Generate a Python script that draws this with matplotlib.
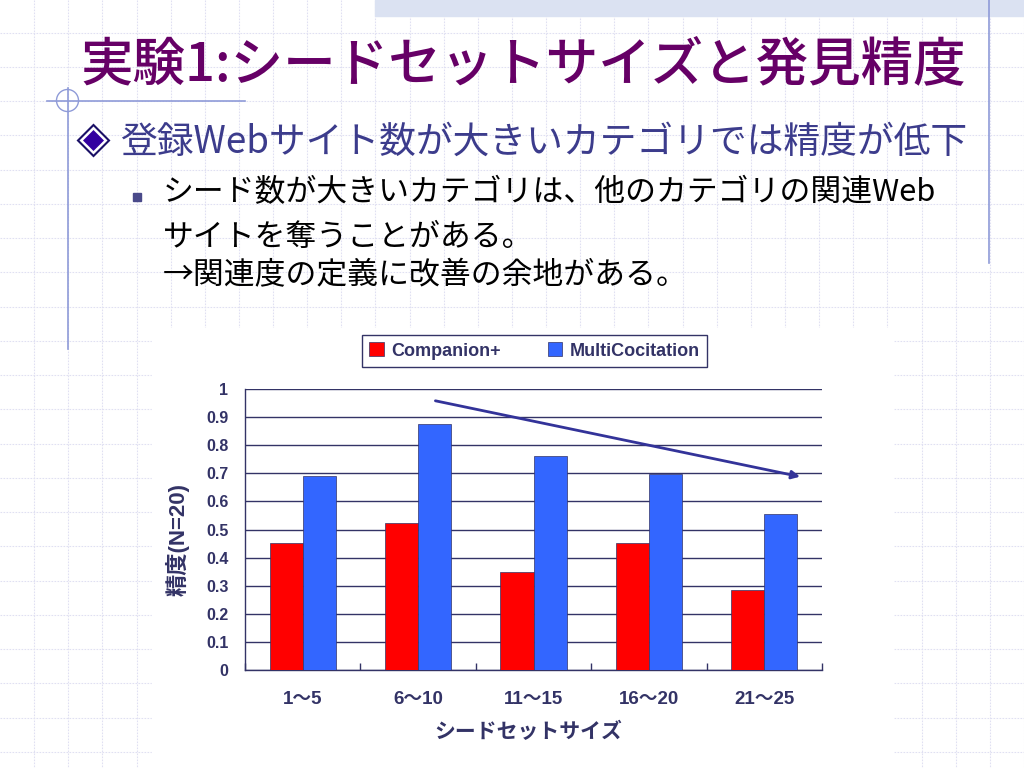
import matplotlib
matplotlib.use("Agg")
import matplotlib.pyplot as plt
from matplotlib.patches import Rectangle, Polygon, Circle
from matplotlib.lines import Line2D
import numpy as np

# data
categories = ["1～5", "6～10", "11～15", "16～20", "21～25"]
companion = [0.453, 0.523, 0.347, 0.453, 0.285]
multicocitation = [0.692, 0.877, 0.762, 0.696, 0.556]
series_names = ["Companion+", "MultiCocitation"]
yticks = [0, 0.1, 0.2, 0.3, 0.4, 0.5, 0.6, 0.7, 0.8, 0.9, 1]
ytick_labels = ["0", "0.1", "0.2", "0.3", "0.4", "0.5", "0.6", "0.7", "0.8", "0.9", "1"]
trend_start = (1.15, 0.958)
trend_end = (4.31, 0.688)

title = "実験1:シードセットサイズと発見精度"
bullet1 = "登録Webサイト数が大きいカテゴリでは精度が低下"
bullet2 = ["シード数が大きいカテゴリは、他のカテゴリの関連Web",
           "サイトを奪うことがある。",
           "→関連度の定義に改善の余地がある。"]

JP = ["Noto Sans CJK JP", "DejaVu Sans"]
CH = ["Liberation Sans", "Noto Sans CJK JP", "DejaVu Sans"]
navy = "#333366"
deco = "#8f9bd8"

W, H = 1024, 768
fig = plt.figure(figsize=(W / 100, H / 100), dpi=100)
fig.patch.set_facecolor("white")


def fx(x):
    return x / W


def fy(y):
    return 1 - y / H


# slide background: pixel-space axes
bg = fig.add_axes([0, 0, 1, 1])
bg.set_xlim(0, W)
bg.set_ylim(H, 0)
bg.axis("off")

gx = np.arange(34.13, W, 34.13)
gy = np.arange(32.7, H, 34.25)
bg.vlines(gx, 0, H, color="#e0e0f2", lw=0.8, linestyles=(0, (1.5, 1.2)))
bg.hlines(gy, 0, W, color="#e0e0f2", lw=0.8, linestyles=(0, (1.5, 1.2)))
bg.add_patch(Rectangle((375, 0), W - 375, 16, color="#dbe2f2", zorder=2))
bg.add_line(Line2D([989, 989], [0, 263], color=deco, lw=1.2, zorder=3))
bg.add_line(Line2D([68, 68], [88, 349], color=deco, lw=1.2, zorder=3))
bg.add_line(Line2D([47, 245], [100.5, 100.5], color=deco, lw=1.2, zorder=3))
bg.add_patch(Circle((67.5, 100.5), 11, fill=False, ec=deco, lw=1, zorder=3))

# diamond bullet
cx, cy = 93.5, 140.5
bg.add_patch(Polygon([(cx - 15.5, cy), (cx, cy - 15.5), (cx + 15.5, cy), (cx, cy + 15.5)],
                     closed=True, fc="white", ec="#1a1066", lw=1.5, zorder=3))
bg.add_patch(Polygon([(cx - 10.5, cy), (cx, cy - 10.5), (cx + 10.5, cy), (cx, cy + 10.5)],
                     closed=True, fc="#3300a0", ec="none", zorder=4))
# square bullet
bg.add_patch(Rectangle((133, 193), 8, 8, color="#4a4a8a", zorder=3))

# chart area
bg.add_patch(Rectangle((152, 328), 893 - 152, H - 328, color="white", zorder=2))

fig.text(fx(80), fy(65), title, family=JP, fontsize=37.8, fontweight="medium",
         color="#660066", ha="left", va="center")
fig.text(fx(120), fy(142), bullet1, family=JP, fontsize=26.5, color="#3c3c8c",
         ha="left", va="center")
for i, line in enumerate(bullet2):
    fig.text(fx(163), fy([193, 237, 276][i]), line, family=JP, fontsize=22.2,
             color="black", ha="left", va="center")

# bar chart
ax = fig.add_axes([fx(245), fy(670), (822 - 245) / W, (670 - 389) / H])
ax.set_facecolor("white")
x = np.arange(len(categories))
w = 0.286
ax.bar(x - w / 2, companion, w, color="#ff0000", edgecolor=navy, lw=0.5,
       label=series_names[0], zorder=3)
ax.bar(x + w / 2, multicocitation, w, color="#3366ff", edgecolor=navy, lw=0.5,
       label=series_names[1], zorder=3)
ax.set_xlim(-0.5, len(categories) - 0.5)
ax.set_ylim(0, 1)
ax.set_yticks(yticks)
ax.set_yticklabels(ytick_labels, family=CH, fontsize=11.5, fontweight="bold", color=navy)
ax.yaxis.grid(True, color=navy, lw=1)
ax.set_axisbelow(True)
ax.set_xticks(x)
ax.set_xticklabels(categories, family=CH, fontsize=13.5, fontweight="bold", color=navy)
ax.set_xticks(np.arange(-0.5, len(categories), 1), minor=True)
ax.tick_params(axis="x", which="major", length=0, pad=15)
ax.tick_params(axis="x", which="minor", length=5, direction="in", color=navy, width=1)
ax.tick_params(axis="y", length=0, pad=12)
for s in ["top", "right"]:
    ax.spines[s].set_visible(False)
for s in ["left", "bottom"]:
    ax.spines[s].set_color(navy)
    ax.spines[s].set_linewidth(1)

ax.annotate("", xy=trend_end, xytext=trend_start,
            arrowprops=dict(arrowstyle="-|>", color="#333399", lw=2, mutation_scale=12,
                            shrinkA=0, shrinkB=0))

fig.text(fx(528), fy(732), "シードセットサイズ", family=JP, fontsize=15,
         fontweight="bold", color=navy, ha="center", va="center")
fig.text(fx(178), fy(540), "精度(N=20)", family=CH, fontsize=16,
         fontweight="bold", color=navy, ha="center", va="center", rotation=90)

h, l = ax.get_legend_handles_labels()
leg = fig.legend(h, l, loc="center", bbox_to_anchor=(fx(534.5), fy(351)), ncol=2,
                 frameon=True, fancybox=False, edgecolor=navy, framealpha=1,
                 prop=dict(family=CH, size=13, weight="bold"),
                 handlelength=0.8, handleheight=0.8, handletextpad=0.4,
                 columnspacing=2.6, borderpad=0.4, borderaxespad=0)
leg.get_frame().set_linewidth(1)
for t in leg.get_texts():
    t.set_color(navy)

fig.savefig("out.png", dpi=100)
